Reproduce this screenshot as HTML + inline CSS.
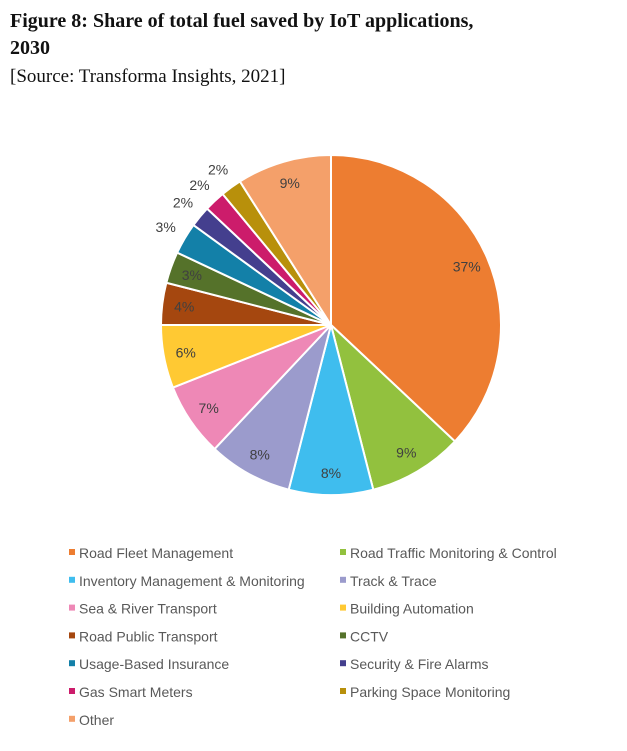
<!DOCTYPE html>
<html><head><meta charset="utf-8"><style>
body{margin:0;background:#fff;width:627px;height:751px;overflow:hidden;}
.t{position:absolute;left:10px;top:8px;font-family:"Liberation Serif",serif;font-weight:bold;font-size:20px;color:#111;line-height:27px;}
.s{position:absolute;left:10px;top:66px;font-family:"Liberation Serif",serif;font-size:19px;color:#111;}
</style></head><body>
<div class="t">Figure 8: Share of total fuel saved by IoT applications,<br>2030</div>
<div class="s">[Source: Transforma Insights, 2021]</div>
<svg id="c" width="627" height="751" style="position:absolute;left:0;top:0"></svg>
<script>
const categories=["Road Fleet Management","Road Traffic Monitoring & Control","Inventory Management & Monitoring","Track & Trace","Sea & River Transport","Building Automation","Road Public Transport","CCTV","Usage-Based Insurance","Security & Fire Alarms","Gas Smart Meters","Parking Space Monitoring","Other"];
const values=[37,9,8,8,7,6,4,3,3,2,2,2,9];
const labels=["37%","9%","8%","8%","7%","6%","4%","3%","3%","2%","2%","2%","9%"];
const colors=["#ED7D31","#92C13E","#3FBDEE","#9B9BCC","#EE88B6","#FFC933","#A5470F","#55722A","#1380A8","#443F8E","#CC1C6B","#B8900B","#F4A06A"];
const NS="http://www.w3.org/2000/svg";
const svg=document.getElementById("c");
const cx=331,cy=325,r=170;
const total=values.reduce((a,b)=>a+b,0);
function pt(a,rr){return [cx+rr*Math.sin(a),cy-rr*Math.cos(a)];}
let acc=0;
values.forEach((v,i)=>{
  const a0=acc/total*2*Math.PI;acc+=v;const a1=acc/total*2*Math.PI;
  const p0=pt(a0,r),p1=pt(a1,r);
  const path=document.createElementNS(NS,"path");
  path.setAttribute("d",`M${cx},${cy}L${p0[0]},${p0[1]}A${r},${r} 0 ${a1-a0>Math.PI?1:0} 1 ${p1[0]},${p1[1]}Z`);
  path.setAttribute("fill",colors[i]);path.setAttribute("stroke","#fff");path.setAttribute("stroke-width","2");
  
  
  svg.appendChild(path);
  const am=(a0+a1)/2;
  const outside=v/total<0.035 && i>=8;
  const lp=pt(am,outside?r*1.13:r*0.87);
  const tx=document.createElementNS(NS,"text");
  tx.setAttribute("x",lp[0]);tx.setAttribute("y",lp[1]+5);
  tx.setAttribute("text-anchor","middle");
  tx.setAttribute("font-family","Liberation Sans, sans-serif");tx.setAttribute("font-size","14");tx.setAttribute("fill","#404040");
  tx.textContent=labels[i];
  
  
  svg.appendChild(tx);
});
categories.forEach((c,i)=>{
  const col=i%2,row=Math.floor(i/2);
  const x=col?340:69,y=553+row*27.8;
  const g=document.createElementNS(NS,"g");
  
  
  const rc=document.createElementNS(NS,"rect");
  rc.setAttribute("x",x);rc.setAttribute("y",y-4);rc.setAttribute("width",6);rc.setAttribute("height",6);rc.setAttribute("fill",colors[i]);
  g.appendChild(rc);
  const tx=document.createElementNS(NS,"text");
  tx.setAttribute("x",x+10);tx.setAttribute("y",y+5);
  tx.setAttribute("font-family","Liberation Sans, sans-serif");tx.setAttribute("font-size","14");tx.setAttribute("fill","#595959");
  tx.textContent=c;g.appendChild(tx);
  svg.appendChild(g);
});
</script>
</body></html>
